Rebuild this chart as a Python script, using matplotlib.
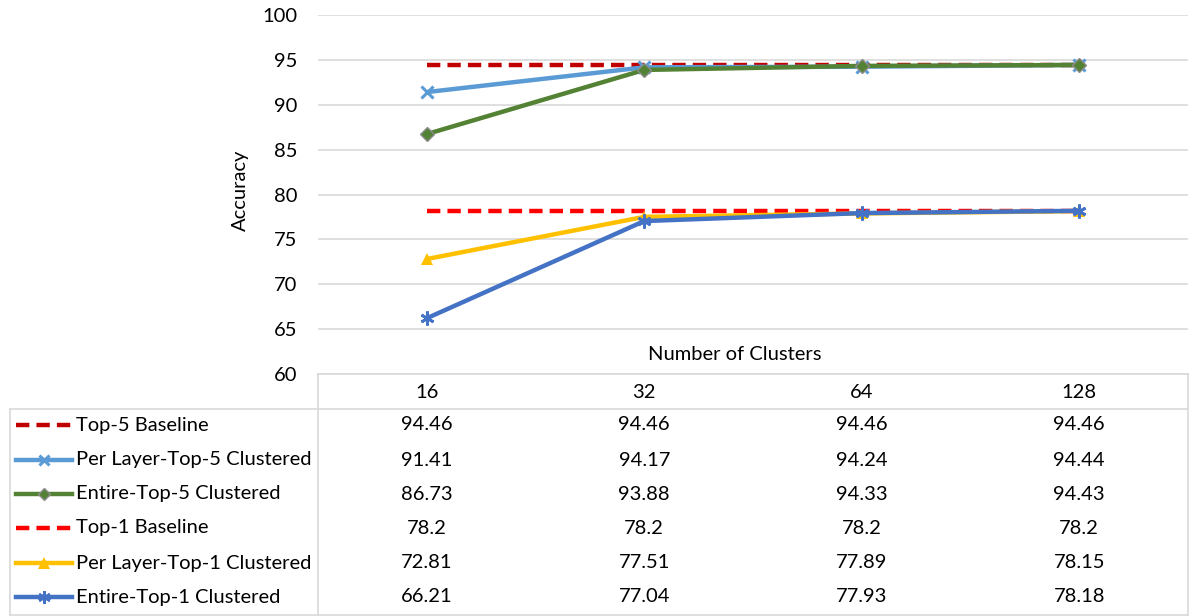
import matplotlib.pyplot as plt
from matplotlib.lines import Line2D
from matplotlib.transforms import blended_transform_factory

plt.rcParams['font.family'] = ['Lato', 'DejaVu Sans']

# data
clusters = ["16", "32", "64", "128"]
series_names = ["Top-5 Baseline", "Per Layer-Top-5 Clustered", "Entire-Top-5 Clustered",
                "Top-1 Baseline", "Per Layer-Top-1 Clustered", "Entire-Top-1 Clustered"]
top5_base = [94.46, 94.46, 94.46, 94.46]
perlayer_top5 = [91.41, 94.17, 94.24, 94.44]
entire_top5 = [86.73, 93.88, 94.33, 94.43]
top1_base = [78.2, 78.2, 78.2, 78.2]
perlayer_top1 = [72.81, 77.51, 77.89, 78.15]
entire_top1 = [66.21, 77.04, 77.93, 78.18]
yticks = [60, 65, 70, 75, 80, 85, 90, 95, 100]

series = [top5_base, perlayer_top5, entire_top5, top1_base, perlayer_top1, entire_top1]
styles = [
    dict(color="#C00000", ls=(0, (3, 1.6)), marker=None),
    dict(color="#5B9BD5", ls="-", marker="x", ms=8, mew=2.2),
    dict(color="#548235", ls="-", marker="D", ms=7, mec="#8C8C8C", mew=1),
    dict(color="#FF0000", ls=(0, (3, 1.6)), marker=None),
    dict(color="#FFC000", ls="-", marker="^", ms=9, mew=0),
    dict(color="#4472C4", ls="-", marker=(6, 2, 0), ms=10, mew=2),
]
FS = 14.5

W, H = 1196, 616
fig = plt.figure(figsize=(W / 100, H / 100), dpi=100)
ax = fig.add_axes([318 / W, 1 - 374 / H, (1188 - 318) / W, (374 - 15) / H])

xs = list(range(len(clusters)))
for vals, st in zip(series, styles):
    ax.plot(xs, vals, lw=3.2, solid_capstyle="butt", dash_capstyle="butt", **st)

ax.set_xlim(-0.5, len(clusters) - 0.5)
ax.set_ylim(60, 100)
ax.set_yticks(yticks)
ax.set_xticks([])
ax.yaxis.grid(True, color="#D9D9D9", lw=1.2)
ax.set_axisbelow(True)
for s in ax.spines.values():
    s.set_visible(False)
ax.tick_params(axis="y", length=0, pad=15, labelsize=FS)

fig.text(240 / W, 1 - 190 / H, "Accuracy", rotation=90, ha="center", va="center", fontsize=FS)
fig.text(735 / W, 1 - 354 / H, "Number of Clusters", ha="center", va="center", fontsize=FS)

# data table below the axis
grid_c = "#D9D9D9"
def fline(xa, ya, xb, yb):
    fig.add_artist(Line2D([xa / W, xb / W], [1 - ya / H, 1 - yb / H],
                          transform=fig.transFigure, color=grid_c, lw=1.2))

fline(318, 374, 1188, 374)
fline(10, 409, 1188, 409)
fline(318, 374, 318, 615)
fline(10, 409, 10, 615)
fline(1188, 374, 1188, 615)
fline(10, 615, 1188, 615)

tr = blended_transform_factory(ax.transData, fig.transFigure)
for i, c in enumerate(clusters):
    fig.text(i, 1 - 392 / H, c, transform=tr, ha="center", va="center", fontsize=FS)

row_y = [425, 460, 494, 528, 563, 597]
for name, vals, st, yy in zip(series_names, series, styles, row_y):
    yf = 1 - yy / H
    for i, v in enumerate(vals):
        fig.text(i, yf, f"{v:g}", transform=tr, ha="center", va="center", fontsize=FS)
    fig.add_artist(Line2D([16 / W, 72 / W], [yf, yf], transform=fig.transFigure,
                          lw=3.2, color=st["color"], ls=st["ls"]))
    if st["marker"] is not None:
        fig.add_artist(Line2D([44 / W], [yf], transform=fig.transFigure, ls="none",
                              marker=st["marker"], ms=st["ms"] * 0.9, color=st["color"],
                              mew=st.get("mew", 1), mec=st.get("mec", st["color"])))
    fig.text(76 / W, yf, name, ha="left", va="center", fontsize=FS)

fig.savefig("out.png", dpi=100)
